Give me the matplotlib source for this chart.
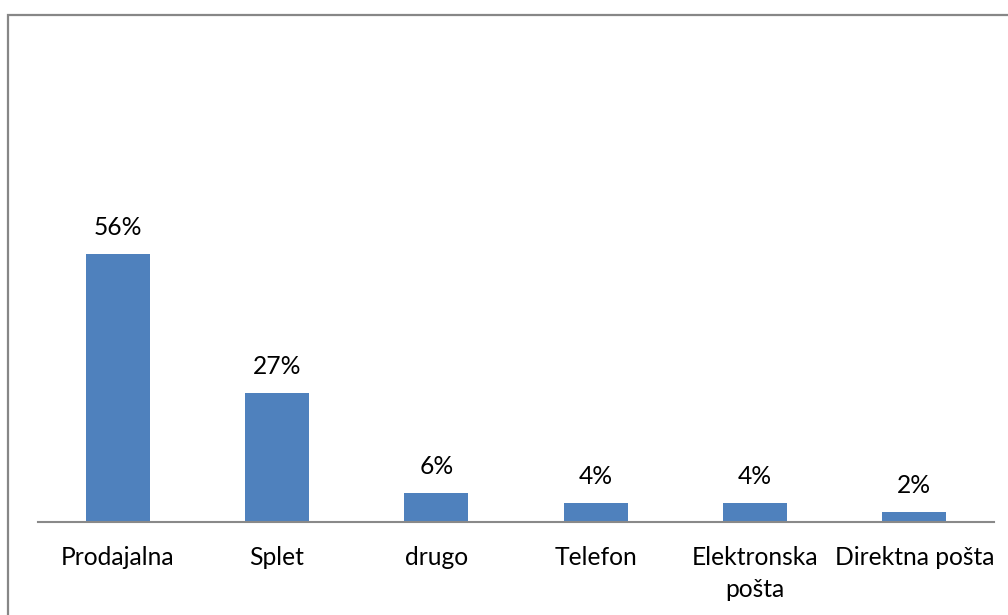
import matplotlib.pyplot as plt
from matplotlib.patches import Rectangle

categories = ['Prodajalna', 'Splet', 'drugo', 'Telefon', 'Elektronska\npošta', 'Direktna pošta']
values = [56, 27, 6, 4, 4, 2]

plt.rcParams['font.family'] = ['Lato', 'DejaVu Sans']

fig = plt.figure(figsize=(10.08, 6.15), dpi=100)
ax = fig.add_axes([38 / 1008, 93 / 615, 956 / 1008, 478 / 615])

x = range(len(categories))
bars = ax.bar(x, values, width=0.4, color='#4F81BD')
ax.set_xlim(-0.5, len(categories) - 0.5)
ax.set_ylim(0, 100)

for b, v in zip(bars, values):
    ax.annotate(f'{v}%', (b.get_x() + b.get_width() / 2, v), xytext=(0, 15),
                textcoords='offset pixels', ha='center', va='bottom', fontsize=17.7, color='#000000')

ax.set_xticks(list(x))
ax.set_xticklabels(categories, fontsize=17.7, linespacing=1.5, va='top')
ax.tick_params(axis='x', length=0, pad=17)
ax.set_yticks([])
for s in ['top', 'right', 'left']:
    ax.spines[s].set_visible(False)
ax.spines['bottom'].set_color('#898989')
ax.spines['bottom'].set_linewidth(1.5)

# chart border (right and bottom edges fall outside the image)
fig.patches.append(Rectangle((7.5 / 1008, -0.1), 1.2, (615 - 15.5) / 615 + 0.1,
                             transform=fig.transFigure, fill=False,
                             edgecolor='#878787', linewidth=1.6))

fig.savefig('out.png', dpi=100)
